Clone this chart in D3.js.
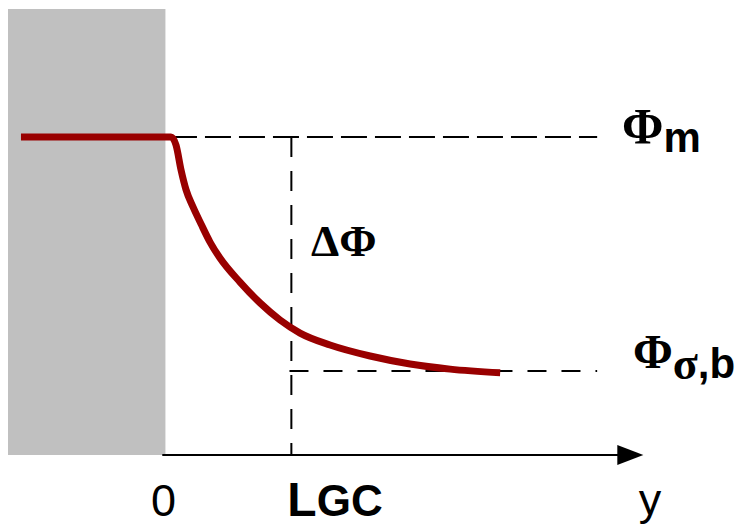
<!DOCTYPE html>
<html><head><meta charset="utf-8">
<script src="https://cdn.jsdelivr.net/npm/d3@7"></script>
<style>html,body{margin:0;padding:0;background:#fff;}svg{display:block;}</style>
</head><body>
<script>
// distance from interface (units of L_GC) and potential (0 = Φσ,b, 1 = Φm)
const curveD   = [-1.147, 0.044, 0.084, 0.124, 0.164, 0.219, 0.283, 0.354, 0.433, 0.592, 0.751, 0.910, 1.069, 1.307, 1.625, 1.943, 2.261, 2.658];
const curvePhi = [1.0, 1.0, 0.966, 0.859, 0.774, 0.701, 0.628, 0.551, 0.483, 0.380, 0.291, 0.218, 0.162, 0.111, 0.064, 0.030, 0.008, -0.008];
const phiM = 1, phiB = 0, lGC = 1;
const tickLabels = ["0", "L", "GC", "y"];

const W = 737, H = 525;
const svg = d3.select("body").append("svg").attr("width", W).attr("height", H);
const x = d3.scaleLinear().domain([-1.25, 3.8]).range([8, 644]);
const y = d3.scaleLinear().domain([-0.359, 1.547]).range([455, 9]);

// gray region (electrode)
svg.append("rect")
  .attr("x", x(-1.25)).attr("y", y(1.547))
  .attr("width", x(0) - x(-1.25)).attr("height", y(-0.359) - y(1.547))
  .attr("fill", "#c0c0c0");

// dashed guides
svg.append("line").attr("x1", x(0.044)).attr("x2", x(3.428)).attr("y1", y(phiM)).attr("y2", y(phiM))
  .attr("stroke", "#000").attr("stroke-width", 2).attr("stroke-dasharray", "26,8");
svg.append("line").attr("x1", x(lGC)).attr("x2", x(lGC)).attr("y1", y(phiM)).attr("y2", y(-0.359))
  .attr("stroke", "#000").attr("stroke-width", 2).attr("stroke-dasharray", "20,14");
svg.append("line").attr("x1", x(0.985)).attr("x2", x(3.428)).attr("y1", y(phiB)).attr("y2", y(phiB))
  .attr("stroke", "#000").attr("stroke-width", 2).attr("stroke-dasharray", "19,15");

// axis with arrow
const y0 = y(-0.359);
svg.append("line").attr("x1", x(-0.025)).attr("x2", x(3.6)).attr("y1", y0).attr("y2", y0)
  .attr("stroke", "#000").attr("stroke-width", 2);
const tip = x(3.795), base = x(3.588);
svg.append("path").attr("d", `M${base},${y0-10}L${tip},${y0}L${base},${y0+10}Z`).attr("fill", "#000");

// curve
const pts = curveD.map((d, i) => [d, curvePhi[i]]);
svg.append("path").datum(pts)
  .attr("d", d3.line().x(d => x(d[0])).y(d => y(d[1])).curve(d3.curveMonotoneX))
  .attr("fill", "none").attr("stroke", "#990000").attr("stroke-width", 7);

const sans = "'Liberation Sans', Arial, sans-serif", serif = "'Liberation Serif', 'Times New Roman', serif";

// x labels
svg.append("text").attr("x", x(0) - 2).attr("y", 516).attr("text-anchor", "middle")
  .attr("font-family", sans).attr("font-size", 45).text(tickLabels[0]);
const lg = svg.append("text").attr("x", x(lGC) - 4).attr("y", 516).attr("font-family", sans).attr("font-weight", "bold");
lg.append("tspan").attr("font-size", 48).text(tickLabels[1]);
lg.append("tspan").attr("font-size", 44).text(tickLabels[2]);
svg.append("text").attr("x", 650).attr("y", 515).attr("text-anchor", "middle")
  .attr("font-family", sans).attr("font-size", 45).text(tickLabels[3]);

// Φm
const t1 = svg.append("text").attr("x", 622).attr("y", y(phiM) + 6);
t1.append("tspan").attr("font-family", serif).attr("font-weight", "bold").attr("font-size", 50).text("Φ");
t1.append("tspan").attr("font-family", sans).attr("font-weight", "bold").attr("font-size", 42).attr("dy", 9).text("m");

// ΔΦ
svg.append("text").attr("x", 311).attr("y", 256).attr("font-family", serif).attr("font-weight", "bold")
  .attr("font-size", 45).text("ΔΦ");

// Φσ,b
const t2 = svg.append("text").attr("x", 633).attr("y", 368);
t2.append("tspan").attr("font-family", serif).attr("font-weight", "bold").attr("font-size", 48).text("Φ");
t2.append("tspan").attr("font-family", serif).attr("font-weight", "bold").attr("font-size", 46).attr("dy", 11).text("σ");
t2.append("tspan").attr("font-family", sans).attr("font-weight", "bold").attr("font-size", 42).attr("dy", -1).text(",b");
</script>
</body></html>
